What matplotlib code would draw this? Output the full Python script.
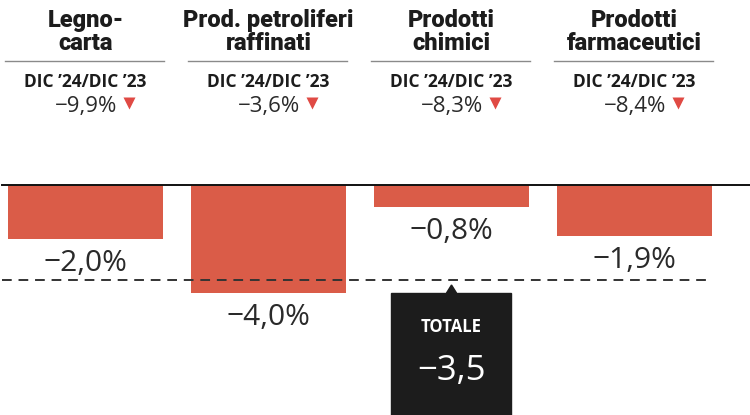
import matplotlib
matplotlib.use("Agg")
import matplotlib.pyplot as plt
from matplotlib.patches import Rectangle, Polygon

# data
categories = ["Legno-\ncarta", "Prod. petroliferi\nraffinati", "Prodotti\nchimici", "Prodotti\nfarmaceutici"]
period_label = "DIC \u201924/DIC \u201923"
yoy_change = [-9.9, -3.6, -8.3, -8.4]
bar_values = [-2.0, -4.0, -0.8, -1.9]
total_value = -3.5
total_label = "TOTALE"

BAR_COLOR = "#da5c48"
ARROW_COLOR = "#e04a44"
DARK = "#1c1c1c"

W, H, DPI = 750, 415, 100
PX_X = 183.0   # pixels per category step
PX_Y = 27.0    # pixels per percentage point
X0 = 85.5      # pixel x of first category
Y0 = 185.0     # pixel y (from top) of zero line

NUM_FONT = ["Open Sans", "DejaVu Sans"]


def fmt(v, dec=1):
    s = f"{abs(v):.{dec}f}".replace(".", ",")
    return ("\u2212" if v < 0 else "") + s


def py(p):
    # pixel from top -> data y
    return (Y0 - p) / PX_Y


fig = plt.figure(figsize=(W / DPI, H / DPI), dpi=DPI)
ax = fig.add_axes([0, 0, 1, 1])
ax.set_xlim(-X0 / PX_X, (W - X0) / PX_X)
ax.set_ylim(-(H - Y0) / PX_Y, Y0 / PX_Y)
ax.axis("off")

plt.rcParams["font.family"] = ["Roboto", "DejaVu Sans"]

xs = list(range(len(categories)))
bw = 155 / PX_X

ax.bar(xs, bar_values, width=bw, color=BAR_COLOR, zorder=2)
ax.axhline(0, xmin=2 / W, xmax=1, color="#111111", lw=1.4, zorder=3)
ax.hlines(total_value, -0.455, 3 + bw / 2, colors="#333333", lw=1.4,
          linestyles=(0, (5, 3.5)), zorder=4)

for x, cat, yoy, v in zip(xs, categories, yoy_change, bar_values):
    l1, l2 = cat.split("\n")
    ax.text(x, py(27), l1, ha="center", va="baseline", fontsize=17, fontweight="heavy", color=DARK)
    ax.text(x, py(50), l2, ha="center", va="baseline", fontsize=17, fontweight="heavy", color=DARK)
    ax.plot([x - 0.44, x + 0.43], [py(61), py(61)], color="#8a8a8a", lw=1)
    ax.text(x, py(87), period_label, ha="center", va="baseline", fontsize=12.5,
            fontweight="bold", color=DARK, family=NUM_FONT)
    ax.text(x + 32 / PX_X, py(112), fmt(yoy) + "%", ha="right", va="baseline",
            fontsize=16, color="#2a2a2a", family=NUM_FONT)
    ax.plot(x + 44 / PX_X, py(103), marker="v", markersize=8, color=ARROW_COLOR, mec="none")
    ax.text(x, v - 10 / PX_Y, fmt(v) + "%", ha="center", va="top",
            fontsize=21.5, color="#2a2a2a", family=NUM_FONT)

# total box
bx = 2
half = 60 / PX_X
top = py(293)
ax.add_patch(Rectangle((bx - half, -20), 2 * half, top + 20, color=DARK, zorder=5))
ax.add_patch(Polygon([(bx - 5 / PX_X, top), (bx + 5 / PX_X, top), (bx, py(285))],
                     closed=True, color=DARK, zorder=5))
ax.text(bx, py(332), total_label, ha="center", va="baseline", fontsize=12,
        fontweight="bold", color="white", zorder=6, family=NUM_FONT)
ax.text(bx, py(380), fmt(total_value), ha="center", va="baseline", fontsize=25,
        color="white", zorder=6, family=NUM_FONT)

fig.savefig("out.png", dpi=DPI, facecolor="white")
